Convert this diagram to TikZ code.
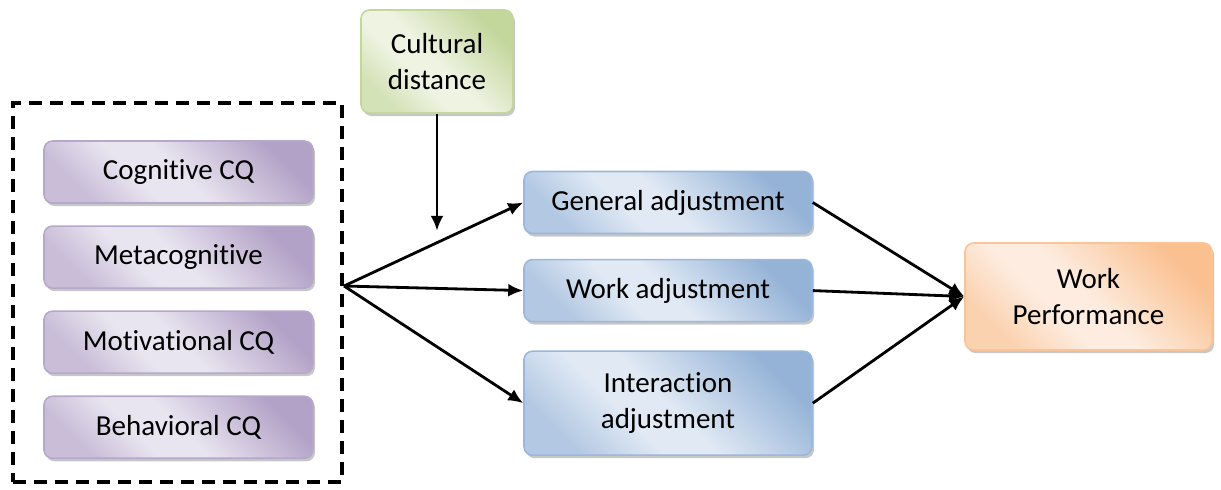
\documentclass[tikz,border=0pt]{standalone}
\usepackage{fontspec}
\setmainfont{Carlito}[Ligatures={NoCommon,NoContextual}, RawFeature={-liga;-clig;-calt;-dlig}]
\usetikzlibrary{arrows.meta,positioning,shadows}

\definecolor{cqdark}{HTML}{B3A2C7}
\definecolor{cqlight}{HTML}{E9E5F0}
\definecolor{cqline}{HTML}{B6A8CB}
\definecolor{cddark}{HTML}{C3D69B}
\definecolor{cdlight}{HTML}{EEF3E2}
\definecolor{cdline}{HTML}{C3D69B}
\definecolor{adjdark}{HTML}{95B3D7}
\definecolor{adjlight}{HTML}{E0E9F4}
\definecolor{adjline}{HTML}{9BB7DA}
\definecolor{perfdark}{HTML}{FAC090}
\definecolor{perflight}{HTML}{FDECDF}
\definecolor{perfline}{HTML}{FAC498}
\colorlet{cqmid}{cqdark!60!cqlight}
\colorlet{cdmid}{cddark!60!cdlight}
\colorlet{adjmid}{adjdark!60!adjlight}
\colorlet{perfmid}{perfdark!60!perflight}

% 0bp ends up top right, 100bp bottom left (shading angle 135)
\pgfdeclareverticalshading{cqshade}{100bp}{color(0bp)=(cqdark); color(25bp)=(cqdark); color(50bp)=(cqlight); color(60bp)=(cqlight); color(75bp)=(cqmid); color(100bp)=(cqmid)}
\pgfdeclareverticalshading{cdshade}{100bp}{color(0bp)=(cddark); color(25bp)=(cddark); color(50bp)=(cdlight); color(60bp)=(cdlight); color(75bp)=(cdmid); color(100bp)=(cdmid)}
\pgfdeclareverticalshading{adjshade}{100bp}{color(0bp)=(adjdark); color(25bp)=(adjdark); color(50bp)=(adjlight); color(60bp)=(adjlight); color(75bp)=(adjmid); color(100bp)=(adjmid)}
\pgfdeclareverticalshading{perfshade}{100bp}{color(0bp)=(perfdark); color(25bp)=(perfdark); color(50bp)=(perflight); color(60bp)=(perflight); color(75bp)=(perfmid); color(100bp)=(perfmid)}

\begin{document}
\begin{tikzpicture}[
    node distance=0.43cm,
    font=\fontsize{16.5}{20.5}\selectfont,
    box/.style={
        rectangle,
        rounded corners=0.17cm,
        line width=0.9pt,
        minimum height=1.24cm,
        align=center,
        shade,
        shading angle=135,
        drop shadow={shadow xshift=0.04cm, shadow yshift=-0.06cm, fill=black!40, opacity=0.55}
    },
    cqbox/.style={
        box,
        draw=cqline,
        shading=cqshade,
        minimum width=5.38cm
    },
    cdbox/.style={
        box,
        draw=cdline,
        shading=cdshade,
        minimum width=3.04cm,
        minimum height=2.06cm
    },
    adjbox/.style={
        box,
        draw=adjline,
        shading=adjshade,
        minimum width=5.76cm
    },
    perfbox/.style={
        box,
        draw=perfline,
        shading=perfshade,
        minimum width=4.94cm,
        minimum height=2.14cm
    },
    group/.style={
        rectangle,
        draw=black,
        line width=2.3pt,
        dash pattern=on 0.26cm off 0.16cm
    },
    arrow/.style={
        ->,
        >={Latex[length=0.3cm, width=0.26cm]},
        line width=1.6pt
    }
]
\useasboundingbox (0,0) rectangle (24.42,-9.78);

% CQ dimensions
\node[cqbox] (cognitive) at (3.57,-3.44) {Cognitive CQ};
\node[cqbox, below=of cognitive] (metacognitive) {Metacognitive};
\node[cqbox, below=of metacognitive] (motivational) {Motivational CQ};
\node[cqbox, below=of motivational] (behavioral) {Behavioral CQ};

% Dashed group round the CQ dimensions
\node[group, minimum width=6.58cm, minimum height=7.58cm] (cq) at (3.55,-5.85) {};

% Moderator
\node[cdbox] (distance) at (8.74,-1.23) {Cultural\\distance};
\coordinate[below=2.34cm of distance.south] (moderate);

% Adjustment
\node[adjbox] (general) at (13.36,-4.05) {General adjustment};
\node[adjbox, below=0.49cm of general] (work) {Work adjustment};
\node[adjbox, below=0.56cm of work, minimum height=2.08cm] (interaction) {Interaction\\adjustment};

% Outcome
\node[perfbox] (performance) at (21.77,-5.93) {Work\\Performance};

% Connections
\coordinate (split) at ([yshift=0.13cm]cq.east);
\draw[arrow] (distance.south) -- (moderate);
\draw[arrow] (split) -- (general.west);
\draw[arrow] (split) -- (work.west);
\draw[arrow] (split) -- (interaction.west);

\draw[arrow] (general.east) -- (performance.west);
\draw[arrow] (work.east) -- (performance.west);
\draw[arrow] (interaction.east) -- (performance.west);

\end{tikzpicture}
\end{document}
